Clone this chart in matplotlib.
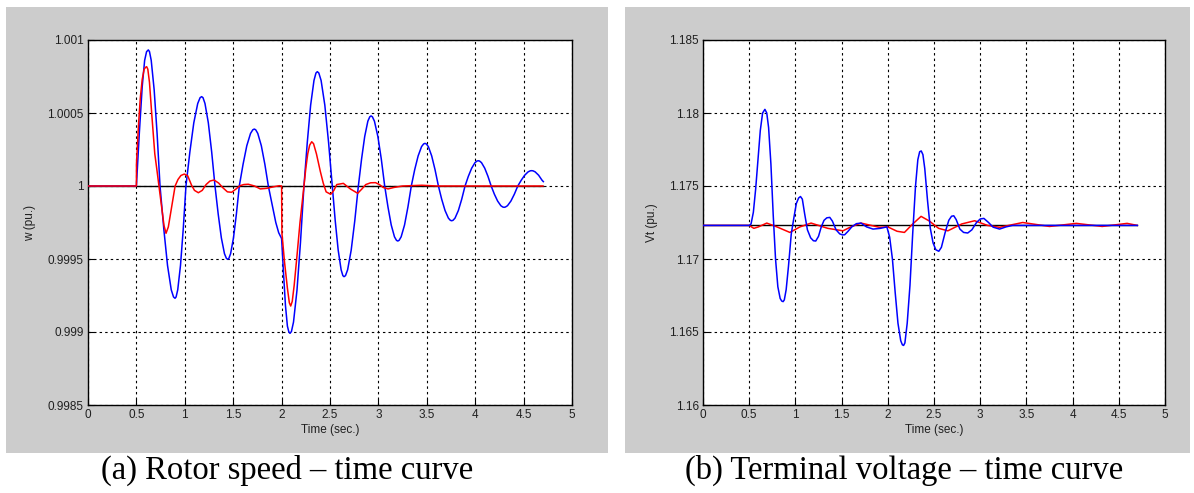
import matplotlib
matplotlib.use("Agg")
import matplotlib.pyplot as plt
from matplotlib.patches import Rectangle

# ---------------- data ----------------
# (a) Rotor speed
w_blue_t = [0.0, 0.50, 0.53, 0.56, 0.585, 0.605, 0.623,
            0.635, 0.653, 0.6835, 0.714, 0.744,
            0.783, 0.8215, 0.860, 0.8835, 0.899,
            0.910, 0.927, 0.9555, 0.984, 1.012,
            1.0525, 1.093, 1.1335, 1.158, 1.174,
            1.188, 1.2085, 1.243, 1.2775, 1.312,
            1.345, 1.3775, 1.410, 1.430, 1.443,
            1.455, 1.473, 1.503, 1.533, 1.563,
            1.602, 1.6405, 1.679, 1.7025, 1.718,
            1.7325, 1.754, 1.7905, 1.827, 1.863,
            1.90, 1.94, 1.97, 2.0, 2.02, 2.04, 2.06, 2.075, 2.087,
            2.1015, 2.123, 2.159, 2.195, 2.231,
            2.2655, 2.300, 2.3345, 2.355, 2.369,
            2.3845, 2.408, 2.4465, 2.485, 2.524,
            2.554, 2.5845, 2.615, 2.633, 2.645,
            2.660, 2.682, 2.719, 2.756, 2.793,
            2.826, 2.8585, 2.891, 2.911, 2.924,
            2.938, 2.959, 2.9945, 3.030, 3.065,
            3.099, 3.1325, 3.166, 3.1865, 3.20,
            3.214, 3.235, 3.27, 3.305, 3.34,
            3.375, 3.4105, 3.446, 3.467, 3.481,
            3.495, 3.516, 3.5505, 3.585, 3.62,
            3.654, 3.6885, 3.723, 3.743, 3.757,
            3.771, 3.7915, 3.826, 3.8605, 3.895,
            3.929, 3.9635, 3.998, 4.018, 4.032,
            4.045, 4.065, 4.0985, 4.132, 4.165,
            4.198, 4.2315, 4.265, 4.285, 4.298,
            4.312, 4.3335, 4.369, 4.4045, 4.44,
            4.476, 4.5115, 4.547, 4.569, 4.583,
            4.597, 4.619, 4.655, 4.69, 4.704]
w_blue_v = [1.0, 1.0, 1.00036, 1.00068, 1.00086, 1.00092, 1.000932,
            1.000921, 1.000861, 1.000659, 1.000357, 1.0,
            0.999706, 0.999456, 0.999289, 0.999240, 0.999231,
            0.999240, 0.999289, 0.999456, 0.999706, 1.0,
            1.000234, 1.000433, 1.000565, 1.000605, 1.000612,
            1.000605, 1.000565, 1.000433, 1.000234, 1.0,
            0.999808, 0.999645, 0.999536, 0.999504, 0.999498,
            0.999504, 0.999536, 0.999645, 0.999808, 1.0,
            1.000149, 1.000276, 1.000360, 1.000385, 1.00039,
            1.000385, 1.000360, 1.000276, 1.000149, 1.0,
            0.99988, 0.99975, 0.99968, 0.99964, 0.99940, 0.99918, 0.99904, 0.99900, 0.998991,
            0.999003, 0.999068, 0.999287, 0.999614, 1.0,
            1.000300, 1.000554, 1.000723, 1.000774, 1.000783,
            1.000774, 1.000723, 1.000554, 1.000300, 1.0,
            0.999762, 0.999561, 0.999426, 0.999386, 0.999379,
            0.999386, 0.999426, 0.999561, 0.999762, 1.0,
            1.000184, 1.000339, 1.000444, 1.000474, 1.00048,
            1.000474, 1.000444, 1.000339, 1.000184, 1.0,
            0.999856, 0.999733, 0.999652, 0.999628, 0.999623,
            0.999628, 0.999652, 0.999733, 0.999856, 1.0,
            1.000112, 1.000206, 1.000270, 1.000288, 1.000292,
            1.000288, 1.000270, 1.000206, 1.000112, 1.0,
            0.999909, 0.999832, 0.999780, 0.999765, 0.999762,
            0.999765, 0.999780, 0.999832, 0.999909, 1.0,
            1.000066, 1.000122, 1.000160, 1.000171, 1.000173,
            1.000171, 1.000160, 1.000122, 1.000066, 1.0,
            0.999944, 0.999897, 0.999865, 0.999856, 0.999854,
            0.999856, 0.999865, 0.999897, 0.999944, 1.0,
            1.000040, 1.000074, 1.000097, 1.000104, 1.000105,
            1.000104, 1.000097, 1.000074, 1.000040, 1.00003]

w_red_t = [0.0, 0.50, 0.501, 0.52, 0.54, 0.56, 0.58, 0.595, 0.606, 0.618, 0.635,
           0.66, 0.69, 0.71, 0.733, 0.76, 0.785, 0.806, 0.83, 0.86, 0.90, 0.93,
           0.96, 0.995, 1.03, 1.07, 1.10, 1.14, 1.18, 1.22, 1.26, 1.302, 1.35,
           1.39, 1.44, 1.484, 1.53, 1.57, 1.61, 1.656, 1.72, 1.78, 1.846, 1.92,
           1.977, 2.0, 2.003, 2.03, 2.06, 2.08, 2.094, 2.11, 2.13, 2.16, 2.19,
           2.231, 2.25, 2.27, 2.29, 2.311, 2.33, 2.36, 2.40, 2.43, 2.46, 2.507,
           2.54, 2.57, 2.638, 2.71, 2.786, 2.83, 2.87, 2.92, 2.97, 3.01, 3.05,
           3.10, 3.16, 3.25, 3.45, 3.60, 4.70]
w_red_v = [1.0, 1.0, 1.000155, 1.00040, 1.00060, 1.00073, 1.00080, 1.000813, 1.000817, 1.00080, 1.00071,
           1.00048, 1.00022, 1.00012, 1.0, 0.99986, 0.99973, 0.999676, 0.99972, 0.99984, 1.0, 1.000045,
           1.000072, 1.000082, 1.00007, 1.000005, 0.99997, 0.999954, 0.99997, 1.00001, 1.000034, 1.000041, 1.00002,
           0.99999, 0.99996, 0.999957, 0.99998, 1.000002, 1.00001, 1.000012, 1.0, 0.99998, 0.999984, 0.999995,
           1.000002, 1.0, 0.99968, 0.99948, 0.99930, 0.99920, 0.999178, 0.99921, 0.99932, 0.99953, 0.99975,
           1.0, 1.00012, 1.00022, 1.00028, 1.000303, 1.00029, 1.00022, 1.00010, 1.00002, 0.99996, 0.999943,
           0.99997, 1.00001, 1.000018, 0.99998, 0.99995, 0.99998, 1.00001, 1.000022, 1.000023, 1.00001, 0.99999,
           0.99998, 0.99999, 1.0, 1.000005, 1.0, 1.0]

w_ref_t = [0.0, 4.70]
w_ref_v = [1.0, 1.0]

# (b) Terminal voltage
vt_blue_t = [0.0, 0.50, 0.52, 0.545, 0.57, 0.595, 0.62, 0.645, 0.67, 0.69, 0.71,
             0.735, 0.76, 0.785, 0.81, 0.835, 0.852, 0.867, 0.88, 0.90, 0.925,
             0.955, 0.983, 1.01, 1.035, 1.055, 1.075, 1.10, 1.13, 1.165, 1.195,
             1.22, 1.25, 1.28, 1.31, 1.34, 1.372, 1.40, 1.44, 1.48, 1.51,
             1.533, 1.57, 1.61, 1.66, 1.71, 1.77, 1.84, 1.92, 1.99, 2.02,
             2.05, 2.08, 2.11, 2.14, 2.158, 2.171, 2.185, 2.21, 2.24, 2.27,
             2.30, 2.325, 2.345, 2.362, 2.38, 2.40, 2.43, 2.46, 2.49, 2.52,
             2.552, 2.58, 2.62, 2.66, 2.69, 2.714, 2.74, 2.78, 2.82, 2.865,
             2.91, 2.96, 3.0, 3.04, 3.09, 3.14, 3.21, 3.28, 3.35, 4.70]
vt_blue_v = [1.1723, 1.1723, 1.1724, 1.1732, 1.1748, 1.1768, 1.1788, 1.1800, 1.18025, 1.1800, 1.1790,
             1.1765, 1.1730, 1.1700, 1.1681, 1.1673, 1.16712, 1.16708, 1.16720, 1.1679, 1.1695,
             1.1717, 1.1728, 1.1738, 1.17418, 1.17428, 1.1741, 1.1731, 1.1720, 1.17145, 1.17125,
             1.17123, 1.17155, 1.1722, 1.17265, 1.17282, 1.17285, 1.1726, 1.1720, 1.17172, 1.17165,
             1.17166, 1.1719, 1.1722, 1.17242, 1.17246, 1.1722, 1.17205, 1.1721, 1.1722, 1.1715,
             1.1700, 1.1677, 1.1656, 1.1644, 1.16412, 1.16408, 1.16425, 1.1656, 1.1682, 1.1718,
             1.1750, 1.1768, 1.17735, 1.1774, 1.17715, 1.1762, 1.1740, 1.1721, 1.1711, 1.17063,
             1.17053, 1.1708, 1.1718, 1.17265, 1.17293, 1.17296, 1.1727, 1.17205, 1.17182, 1.17178,
             1.1720, 1.1725, 1.17274, 1.17278, 1.1725, 1.17218, 1.17205, 1.1722, 1.1723, 1.1723]

vt_red_t = [0.0, 0.50, 0.55, 0.60, 0.69, 0.80, 0.94, 1.05, 1.17, 1.35, 1.515,
            1.60, 1.71, 1.91, 2.0, 2.10, 2.18, 2.27, 2.36, 2.45, 2.55, 2.65,
            2.80, 2.94, 3.08, 3.21, 3.46, 3.75, 4.04, 4.32, 4.59, 4.70]
vt_red_v = [1.1723, 1.1723, 1.1721, 1.1722, 1.17246, 1.1722, 1.17182, 1.1722, 1.17246, 1.1721, 1.17193,
            1.1722, 1.17246, 1.17217, 1.1722, 1.1719, 1.17182, 1.1724, 1.17292, 1.1726, 1.1721, 1.17193,
            1.1724, 1.17262, 1.1723, 1.17217, 1.1725, 1.17223, 1.17244, 1.17223, 1.17244, 1.1723]

vt_ref_t = [0.0, 4.70]
vt_ref_v = [1.1723, 1.1723]

x_ticks = [0, 0.5, 1, 1.5, 2, 2.5, 3, 3.5, 4, 4.5, 5]
x_ticklabels = ["0", "0.5", "1", "1.5", "2", "2.5", "3", "3.5", "4", "4.5", "5"]
w_yticks = [0.9985, 0.999, 0.9995, 1.0, 1.0005, 1.001]
w_yticklabels = ["0.9985", "0.999", "0.9995", "1", "1.0005", "1.001"]
vt_yticks = [1.16, 1.165, 1.17, 1.175, 1.18, 1.185]
vt_yticklabels = ["1.16", "1.165", "1.17", "1.175", "1.18", "1.185"]

captions = ["(a) Rotor speed \u2013 time curve", "(b) Terminal voltage \u2013 time curve"]
ylabels = ["w (pu.)", "Vt (pu.)"]
xlabel = "Time (sec.)"

# ---------------- figure ----------------
W, H = 1194, 493
fig = plt.figure(figsize=(W / 100, H / 100), dpi=100)
fig.patch.set_facecolor("white")

def fx(px):
    return px / W

def fy(py):
    return 1 - py / H

gray = "#cccccc"
for (x0, x1) in [(6, 608), (625, 1190)]:
    fig.patches.append(Rectangle((fx(x0), fy(453)), fx(x1) - fx(x0), fy(7) - fy(453),
                                 transform=fig.transFigure, facecolor=gray,
                                 edgecolor="none", zorder=-10))

font = "Liberation Sans"
tick_fs = 8.5
txt_color = "#202020"

def setup(ax, yticks, ylabs, ylim, ylabel):
    ax.set_facecolor("white")
    ax.set_xlim(0, 5)
    ax.set_ylim(*ylim)
    ax.set_xticks(x_ticks)
    ax.set_xticklabels(x_ticklabels, fontsize=tick_fs, family=font, color=txt_color)
    ax.set_yticks(yticks)
    ax.set_yticklabels(ylabs, fontsize=tick_fs, family=font, color=txt_color)
    ax.tick_params(direction="in", length=4, width=0.8, pad=3, color="black")
    ax.grid(True, color="black", linestyle=(0, (2.2, 2.8)), linewidth=0.8)
    ax.set_axisbelow(True)
    for s in ax.spines.values():
        s.set_linewidth(1.0)
        s.set_color("black")
    ax.set_xlabel(xlabel, fontsize=tick_fs, family=font, labelpad=2, color=txt_color)
    ax.set_ylabel(ylabel, fontsize=tick_fs, family=font, labelpad=8, color=txt_color)

ax1 = fig.add_axes([fx(88), fy(405), fx(572) - fx(88), fy(40) - fy(405)])
setup(ax1, w_yticks, w_yticklabels, (0.9985, 1.001), ylabels[0])
ax1.plot(w_ref_t, w_ref_v, color="black", linewidth=1.0, zorder=3)
ax1.plot(w_blue_t, w_blue_v, color="#0000ff", linewidth=1.1, zorder=4)
ax1.plot(w_red_t, w_red_v, color="#ff0000", linewidth=1.1, zorder=5)

ax2 = fig.add_axes([fx(703), fy(405), fx(1165) - fx(703), fy(40) - fy(405)])
setup(ax2, vt_yticks, vt_yticklabels, (1.16, 1.185), ylabels[1])
ax2.plot(vt_ref_t, vt_ref_v, color="black", linewidth=1.0, zorder=3)
ax2.plot(vt_red_t, vt_red_v, color="#ff0000", linewidth=1.1, zorder=4)
ax2.plot(vt_blue_t, vt_blue_v, color="#0000ff", linewidth=1.1, zorder=5)

fig.text(fx(287), fy(470), captions[0], ha="center", va="center",
         fontsize=23.5, family="Liberation Serif")
fig.text(fx(904), fy(470), captions[1], ha="center", va="center",
         fontsize=23.5, family="Liberation Serif")

fig.savefig("out.png", dpi=100, facecolor="white")
